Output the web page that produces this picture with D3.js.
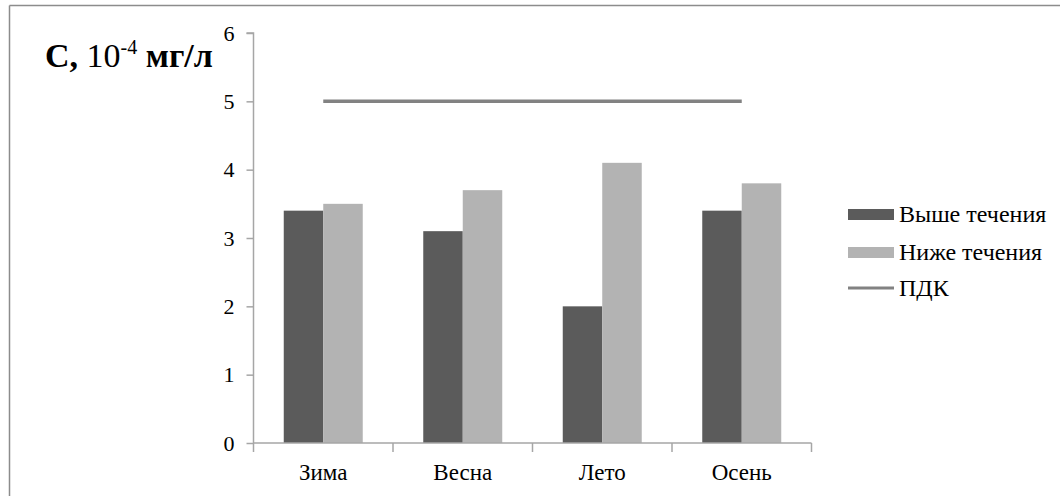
<!DOCTYPE html>
<html><head><meta charset="utf-8">
<script src="https://cdn.jsdelivr.net/npm/d3@7"></script>
<style>html,body{margin:0;padding:0;background:#fff;}svg{display:block;}</style>
</head><body>
<script>
const categories = ["Зима", "Весна", "Лето", "Осень"];
const upstream = [3.4, 3.1, 2.0, 3.4];     // Выше течения
const downstream = [3.5, 3.7, 4.1, 3.8];   // Ниже течения
const pdk = [5, 5, 5, 5];                  // ПДК
const seriesNames = ["Выше течения", "Ниже течения", "ПДК"];
const yTicks = [0, 1, 2, 3, 4, 5, 6];

const W = 1060, H = 496;
const FF = 'Liberation Serif, Tinos, Nimbus Roman, FreeSerif, Times New Roman, serif';
const svg = d3.select("body").append("svg").attr("width", W).attr("height", H)
  .attr("font-family", FF);
function txt(sel, size) {
  return sel.attr("font-family", FF).attr("font-size", size);
}

// outer frame (cut from document)
svg.append("line").attr("x1", 9.5).attr("x2", W).attr("y1", 5.5).attr("y2", 5.5)
  .attr("stroke", "#8c8c8c").attr("stroke-width", 1.5);
svg.append("line").attr("x1", 9.5).attr("x2", 9.5).attr("y1", 5.5).attr("y2", H)
  .attr("stroke", "#8c8c8c").attr("stroke-width", 1.5);

const x0 = 253.5, x1 = 811.5, yTop = 33, yBot = 443;
const x = d3.scaleBand().domain(categories).range([x0, x1]).paddingInner(0).paddingOuter(0);
const y = d3.scaleLinear().domain([0, 6]).range([yBot, yTop]);
const keys = ["up", "down"];
const xs = d3.scaleBand().domain(keys).range([0, x.bandwidth()]).paddingInner(0).paddingOuter(0.766);
const colors = {up: "#5b5b5b", down: "#b3b3b3"};
const axisColor = "#a6a6a6";

// bars
const rows = categories.map((c, i) => ({c, up: upstream[i], down: downstream[i]}));
const g = svg.append("g");
rows.forEach(r => {
  keys.forEach(k => {
    g.append("rect")
      .attr("x", x(r.c) + xs(k))
      .attr("y", y(r[k]))
      .attr("width", xs.bandwidth())
      .attr("height", y(0) - y(r[k]))
      .attr("fill", colors[k]);
  });
});

// y axis
const yAxis = d3.axisLeft(y).tickValues(yTicks).tickSize(7).tickPadding(12).tickFormat(d3.format("d"));
const ya = svg.append("g").attr("transform", `translate(${x0},0)`).call(yAxis);
ya.attr("font-family", FF).attr("font-size", 22);
ya.select(".domain").attr("stroke", axisColor).attr("stroke-width", 1.5).attr("d", `M-7,${yTop}H0V${yBot}`);
ya.selectAll(".tick line").attr("stroke", axisColor).attr("stroke-width", 1.5);
txt(ya.selectAll(".tick text"), 22).attr("fill", "#000");

// x axis
const xa = svg.append("g").attr("transform", `translate(0,${yBot})`);
xa.append("line").attr("x1", x0).attr("x2", x1).attr("y1", 0).attr("y2", 0)
  .attr("stroke", axisColor).attr("stroke-width", 1.5);
const bounds = categories.map(c => x(c)).concat([x1]);
xa.selectAll("line.t").data(bounds).join("line").attr("class", "t")
  .attr("x1", d => d).attr("x2", d => d).attr("y1", 0).attr("y2", 9)
  .attr("stroke", axisColor).attr("stroke-width", 1.5);
txt(xa.selectAll("text").data(categories).join("text"), 23)
  .attr("x", d => x(d) + x.bandwidth() / 2).attr("y", 37)
  .attr("text-anchor", "middle").attr("fill", "#000").text(d => d);

// PDK line
const line = d3.line().x((d, i) => x(categories[i]) + x.bandwidth() / 2).y(d => y(d));
svg.append("path").datum(pdk).attr("d", line).attr("fill", "none")
  .attr("stroke", "#828282").attr("stroke-width", 3.5);

// y title
const t = txt(svg.append("text"), 34).attr("x", 45).attr("y", 67).attr("fill", "#000");
t.append("tspan").attr("font-weight", "bold").text("С, ");
t.append("tspan").text("10");
t.append("tspan").attr("font-size", 20).attr("dy", -13).text("-4");
t.append("tspan").attr("dy", 13).attr("font-weight", "bold").text(" мг/л");

// legend
const lg = svg.append("g").attr("transform", "translate(848,0)");
const ly = [214, 252, 288];
seriesNames.forEach((n, i) => {
  if (i < 2) {
    lg.append("rect").attr("x", 0).attr("y", ly[i] - 5).attr("width", 46).attr("height", 11)
      .attr("fill", i === 0 ? colors.up : colors.down);
  } else {
    lg.append("line").attr("x1", 0).attr("x2", 46).attr("y1", ly[i]).attr("y2", ly[i])
      .attr("stroke", "#828282").attr("stroke-width", 3);
  }
  txt(lg.append("text"), 24).attr("x", 51).attr("y", ly[i] + 8)
    .attr("fill", "#000").text(n);
});
</script>
</body></html>
